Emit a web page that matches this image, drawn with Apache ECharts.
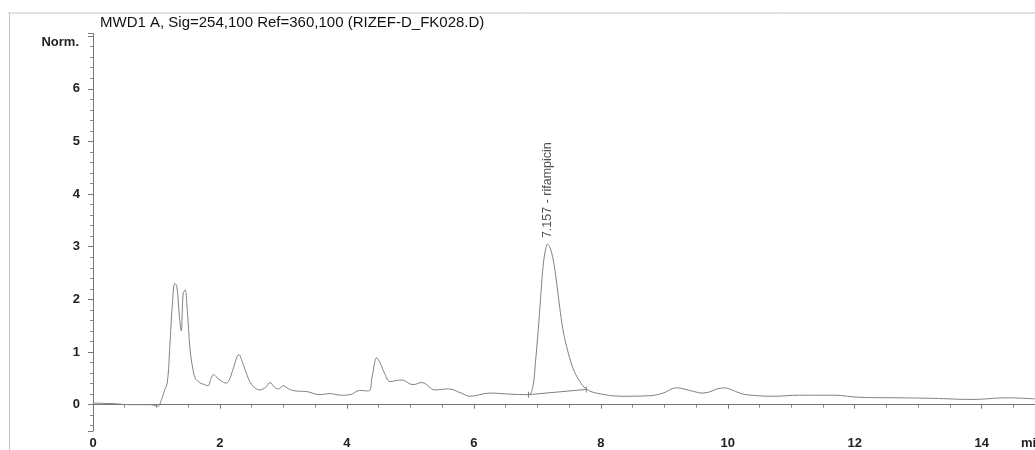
<!DOCTYPE html>
<html>
<head>
<meta charset="utf-8">
<script src="https://cdn.jsdelivr.net/npm/echarts@6/dist/echarts.min.js"></script>
<style>
html,body{margin:0;padding:0;background:#fff;}
#chart{width:1035px;height:450px;}
</style>
</head>
<body>
<div id="chart"></div>
<script>
// ---- data ----
const chartTitle = 'MWD1 A, Sig=254,100 Ref=360,100 (RIZEF-D_FK028.D)';
const yAxisName = 'Norm.';
const xAxisUnit = 'min';
const retentionTime = [0.0,0.3,0.6,0.9,1.02,1.08,1.12,1.17,1.21,1.25,1.29,1.32,1.36,1.39,1.42,1.45,1.49,1.53,1.57,1.61,1.68,1.76,1.81,1.86,1.9,1.95,2.02,2.1,2.15,2.2,2.3,2.35,2.41,2.5,2.63,2.72,2.79,2.86,2.92,3.0,3.08,3.2,3.36,3.57,3.73,3.9,4.05,4.2,4.34,4.4,4.47,4.52,4.6,4.68,4.86,5.04,5.18,5.39,5.6,5.8,5.94,6.25,6.57,6.86,6.93,6.97,7.01,7.05,7.09,7.13,7.16,7.2,7.25,7.3,7.35,7.4,7.46,7.56,7.67,7.77,7.93,8.35,8.77,8.98,9.19,9.4,9.61,9.93,10.19,10.29,10.71,11.13,11.66,12.08,12.71,13.23,13.86,14.39,14.84];
const signal = [0.03,0.02,0.0,0.0,-0.03,0.1,0.25,0.42,1.1,1.9,2.3,2.25,1.7,1.4,2.1,2.18,1.7,1.04,0.7,0.51,0.42,0.38,0.36,0.5,0.57,0.52,0.45,0.41,0.48,0.65,0.95,0.82,0.62,0.38,0.28,0.33,0.42,0.33,0.3,0.36,0.3,0.26,0.25,0.19,0.21,0.18,0.19,0.27,0.26,0.55,0.89,0.8,0.58,0.44,0.47,0.38,0.42,0.28,0.3,0.22,0.16,0.22,0.2,0.19,0.35,0.8,1.36,2.0,2.62,2.95,3.05,2.98,2.75,2.35,1.87,1.45,1.11,0.7,0.44,0.3,0.22,0.16,0.17,0.22,0.32,0.27,0.22,0.32,0.22,0.19,0.16,0.18,0.18,0.14,0.13,0.12,0.1,0.13,0.11];
const integrationTime = [6.86, 7.77];
const integrationLevel = [0.19, 0.29];
const peakTime = [7.157];
const peakHeight = [3.05];
const peakName = ['rifampicin'];
const yLabels = [0,1,2,3,4,5,6];

const trace = retentionTime.map((t,i)=>[t, signal[i]]);
const baseline = integrationTime.map((t,i)=>[t, integrationLevel[i]]);
const peaks = peakTime.map((t,i)=>({value:[t, peakHeight[i]], name: peakTime[i].toFixed(3)+' - '+peakName[i]}));

const chart = echarts.init(document.getElementById('chart'));
const font = 'Liberation Sans, Arial, sans-serif';
chart.setOption({
  animation:false,
  backgroundColor:'#fff',
  title:{
    text: chartTitle, left: 95, top: 10,
    textStyle:{fontFamily:font, fontSize:15, fontWeight:'normal', color:'#111'}
  },
  grid:{left:93, right:0, top:33.5, bottom:18.3, containLabel:false},
  xAxis:{
    type:'value', min:0, max:14.84, interval:2,
    axisLine:{show:true, lineStyle:{color:'#777', width:1}},
    axisTick:{show:true, length:4, inside:false, lineStyle:{color:'#777'}},
    minorTick:{show:true, splitNumber:4, length:3, lineStyle:{color:'#888'}},
    splitLine:{show:false},
    axisLabel:{show:true, margin:6, showMaxLabel:false, fontFamily:font, fontSize:13, fontWeight:'bold', color:'#222'}
  },
  yAxis:{
    type:'value', min:-0.5, max:7.05, splitNumber:7,
    name: yAxisName, nameLocation:'end', nameGap:-9,
    nameTextStyle:{fontFamily:font, fontSize:13, fontWeight:'bold', color:'#222', align:'right', verticalAlign:'middle', padding:[0,14,0,0]},
    axisLine:{show:true, lineStyle:{color:'#777', width:1}},
    axisTick:{show:true, length:5, lineStyle:{color:'#777'}},
    minorTick:{show:true, splitNumber:5, length:3, lineStyle:{color:'#888'}},
    splitLine:{show:false},
    axisLabel:{show:true, margin:13, customValues: yLabels, fontFamily:font, fontSize:13, fontWeight:'bold', color:'#222'}
  },
  graphic:[
    {type:'line', shape:{x1:8, y1:13, x2:1035, y2:13}, style:{stroke:'#c4c4c4', lineWidth:1}, silent:true},
    {type:'line', shape:{x1:9.5, y1:13, x2:9.5, y2:450}, style:{stroke:'#c4c4c4', lineWidth:1}, silent:true},
    {type:'text', left:1021, top:437, style:{text:xAxisUnit, font:'bold 13px '+font, fill:'#222'}, silent:true}
  ],
  series:[
    {
      type:'line', data: trace, showSymbol:false, smooth:0.4,
      lineStyle:{color:'#808080', width:1}, silent:true, z:3
    },
    {
      type:'line', data: baseline, symbol:'rect', symbolSize:[1,6], showSymbol:true,
      itemStyle:{color:'#808080'}, lineStyle:{color:'#808080', width:1}, silent:true, z:2
    },
    {
      type:'scatter', data: peaks, symbolSize:0, silent:true,
      label:{show:true, formatter:p=>p.name, position:'top', distance:6, rotate:90, align:'left', verticalAlign:'middle',
        fontFamily:font, fontSize:12.5, color:'#222'}
    }
  ]
});
</script>
</body>
</html>
